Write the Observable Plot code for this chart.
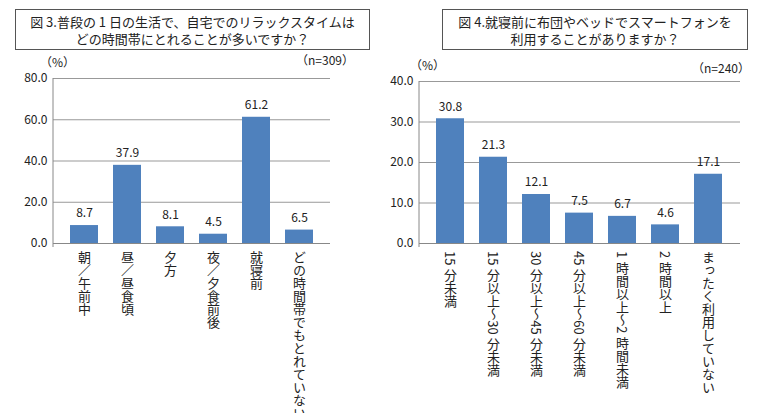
<!DOCTYPE html>
<html><head><meta charset="utf-8">
<script src="https://cdn.jsdelivr.net/npm/d3@7"></script>
<script src="https://cdn.jsdelivr.net/npm/@observablehq/plot@0.6"></script>
<style>
body{margin:0;width:758px;height:413px;background:#fff;font-family:"Noto Sans CJK JP",sans-serif;position:relative;overflow:hidden;color:#222}
.box{position:absolute;border:1px solid #555;text-align:center;font-size:13px;line-height:17px;padding-top:3px;box-sizing:border-box}
.t{position:absolute;font-size:12px}
.p{position:absolute;top:55px}
.vl{position:absolute;writing-mode:vertical-rl;text-orientation:mixed;font-size:13px;line-height:16px;white-space:nowrap;transform:translateX(-50%);color:#222}
</style></head><body>
<div class="box" style="left:15px;top:9px;width:355px;height:41px">図 3.普段の 1 日の生活で、自宅でのリラックスタイムは<br>どの時間帯にとれることが多いですか？</div>
<div class="box" style="left:442px;top:9px;width:306px;height:41px">図 4.就寝前に布団やベッドでスマートフォンを<br>利用することがありますか？</div>
<div class="t" style="left:40px;top:53px">（%）</div>
<div class="t" style="left:296px;top:51px">（n=309）</div>
<div class="t" style="left:410px;top:56px">（%）</div>
<div class="t" style="left:692px;top:59px">（n=240）</div>
<div id="c1" class="p" style="left:0"></div>
<div id="c2" class="p" style="left:379px"></div>
<script>
const cats1 = ["朝／午前中","昼／昼食頃","夕方","夜／夕食前後","就寝前","どの時間帯でもとれていない"];
const vals1 = [8.7,37.9,8.1,4.5,61.2,6.5];
const ticks1 = [0,20,40,60,80];
const cats2 = ["15 分未満","15 分以上～30 分未満","30 分以上～45 分未満","45 分以上～60 分未満","1 時間以上～2 時間未満","2 時間以上","まったく利用していない"];
const vals2 = [30.8,21.3,12.1,7.5,6.7,4.6,17.1];
const ticks2 = [0,10,20,30,40];

function chart(host, left, cats, vals, ticks, o){
  const data = cats.map((c,i)=>({c, v:vals[i]}));
  const svg = Plot.plot({
    width:o.width, height:358, marginLeft:o.ml, marginRight:o.mr, marginTop:o.mt, marginBottom:358-188,
    style:{fontFamily:"Noto Sans CJK JP, sans-serif", fontSize:"12px", color:"#222", background:"transparent"},
    x:{domain:cats, padding:0.34, axis:null},
    y:{domain:[0,ticks[ticks.length-1]], ticks, tickFormat:d3.format(".1f"), tickSize:0, tickPadding:6, label:null},
    marks:[
      Plot.ruleY(ticks,{stroke:"#999", strokeWidth:1}),
      Plot.barY(data,{x:"c", y:"v", fill:"#4f81bd"}),
      Plot.ruleY([0],{stroke:"#888"}),
      Plot.text(data,{x:"c", y:"v", text:d=>d.v.toFixed(1), dy:-12, fontSize:12, fill:"#222"})
    ]
  });
  const y = svg.scale("y"), x = svg.scale("x");
  d3.select(svg).append("line").attr("x1",o.ml).attr("x2",o.ml).attr("y1",y.apply(ticks[ticks.length-1])).attr("y2",y.apply(0)+4).attr("stroke","#888");
  host.append(svg);
  for (const c of cats){
    const d = document.createElement("div");
    d.className = "vl";
    d.textContent = c;
    d.style.left = (left + x.apply(c) + x.bandwidth/2) + "px";
    d.style.top = (55 + y.apply(0) + 8) + "px";
    document.body.append(d);
  }
}
chart(document.getElementById("c1"), 0, cats1, vals1, ticks1, {width:375, ml:53, mr:45, mt:23});
chart(document.getElementById("c2"), 379, cats2, vals2, ticks2, {width:379, ml:40, mr:18, mt:26});
</script>
</body></html>
